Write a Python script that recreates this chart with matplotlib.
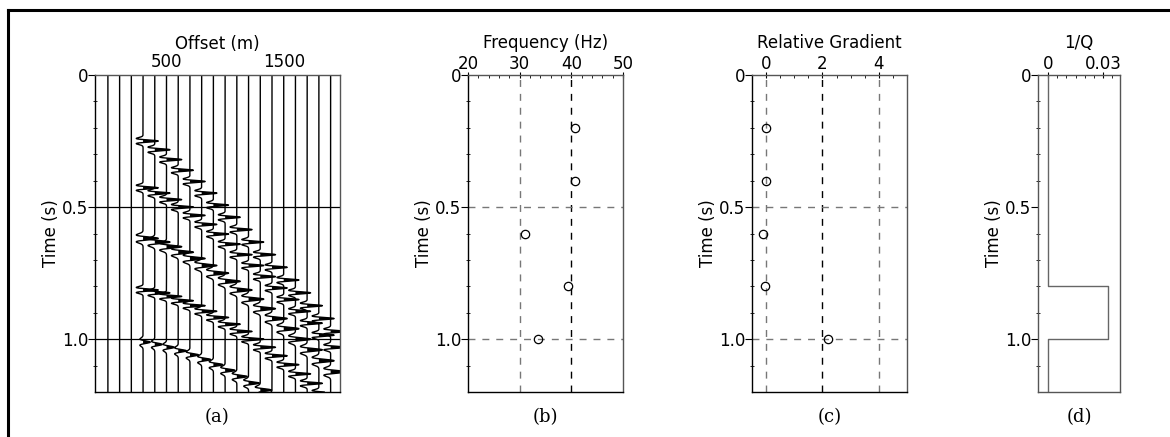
import matplotlib.pyplot as plt
from matplotlib.lines import Line2D
import numpy as np

plt.rcParams['font.family'] = ['DejaVu Sans']

# synthetic gather: reflectors, offsets
offsets = [0, 100, 200, 300, 400, 500, 600, 700, 800, 900,
           1000, 1100, 1200, 1300, 1400, 1500, 1600, 1700, 1800, 1900]
first_live = 300
t0_refl = [0.2, 0.4, 0.6, 0.8, 1.0]
amp_refl = [1.0, 1.0, 1.0, 1.0, 0.45]
grad_refl = [0.0, 0.0, 0.0, 0.0, 2.2]
freq_wavelet = [40, 40, 30, 40, 33]
vel = 2000.0

# panel (b), (c), (d)
t_est = [0.2, 0.4, 0.6, 0.8, 1.0]
freq_est = [40.8, 40.8, 31.0, 39.4, 33.6]
grad_est = [0.0, 0.0, -0.1, -0.05, 2.2]
q_time = [0.0, 0.8, 0.8, 1.0, 1.0, 1.2]
q_inv = [0.0, 0.0, 0.033, 0.033, 0.0, 0.0]


def ricker(t, f):
    a = (np.pi * f * t) ** 2
    return (1 - 2 * a) * np.exp(-a)


W, H = 1170, 437
fig = plt.figure(figsize=(W / 100, H / 100), dpi=100)

# frame lines (top + left)
fig.add_artist(Line2D([8 / W, 1], [1 - 10 / H, 1 - 10 / H], color='black', lw=2.2))
fig.add_artist(Line2D([8 / W, 8 / W], [0, 1 - 10 / H], color='black', lw=2.2))

bot = (H - 392) / H
hgt = (392 - 75) / H
FS = 12


def setup(ax, xlab):
    ax.set_ylim(1.2, 0)
    ax.set_yticks([0, 0.5, 1.0])
    ax.set_yticklabels(['0', '0.5', '1.0'])
    ax.set_yticks(np.arange(0.1, 1.2, 0.1), minor=True)
    ax.xaxis.set_ticks_position('top')
    ax.xaxis.set_label_position('top')
    ax.set_xlabel(xlab, fontsize=FS, labelpad=5)
    ax.set_ylabel('Time (s)', fontsize=FS, labelpad=1)
    ax.tick_params(axis='y', which='major', direction='out', length=5, labelsize=FS, pad=0)
    ax.tick_params(axis='y', which='minor', direction='inout', length=3)
    ax.tick_params(axis='x', which='major', direction='inout', length=5, labelsize=FS, pad=-1)
    ax.tick_params(axis='x', which='minor', direction='in', length=2)
    for s in ax.spines.values():
        s.set_linewidth(1.0)
    ax.spines['top'].set_color('#555555')
    ax.spines['right'].set_color('#555555')


def caption(x0, w, s):
    fig.text((x0 + w / 2) / W, 1 - 417 / H, s, family='DejaVu Serif',
             fontsize=13, ha='center', va='center')


# (a) wiggle gather
ax = fig.add_axes([95 / W, bot, 245 / W, hgt])
t = np.arange(0, 1.2005, 0.001)
scale = 130.0
for x in offsets:
    tr = np.zeros_like(t)
    if x >= first_live:
        for t0, a, g, f in zip(t0_refl, amp_refl, grad_refl, freq_wavelet):
            tx = np.sqrt(t0 ** 2 + (x / vel) ** 2)
            s2 = (x / 2) ** 2 / ((x / 2) ** 2 + (vel * t0 / 2) ** 2)
            tr += a * (1 + g * s2) * ricker(t - tx, f)
    xs = x + scale * tr
    ax.plot(xs, t, color='black', lw=1.0)
    ax.fill_betweenx(t, x, xs, where=tr > 0, color='black', lw=0)
for y in [0.5, 1.0]:
    ax.axhline(y, color='black', lw=0.9)
ax.set_xlim(-110, 1980)
ax.set_xticks([500, 1500])
setup(ax, 'Offset (m)')
ax.tick_params(axis='x', which='major', length=0, pad=3)
ax.xaxis.labelpad = 3
caption(95, 245, '(a)')

# (b) frequency
ax = fig.add_axes([468 / W, bot, 155 / W, hgt])
ax.axvline(30, color='#777777', lw=1, ls=(0, (5, 5)))
ax.axvline(40, color='black', lw=1, ls=(0, (5, 5)))
for y in [0.5, 1.0]:
    ax.axhline(y, color='#777777', lw=1, ls=(0, (5, 5)))
ax.plot(freq_est, t_est, 'o', mfc='none', mec='black', ms=6, mew=0.9)
ax.set_xlim(20, 50)
ax.set_xticks([20, 30, 40, 50])
ax.set_xticks(np.arange(22, 50, 2), minor=True)
setup(ax, 'Frequency (Hz)')
caption(468, 155, '(b)')

# (c) relative gradient
ax = fig.add_axes([752 / W, bot, 155 / W, hgt])
ax.axvline(0, color='#777777', lw=1, ls=(0, (5, 5)))
ax.axvline(2, color='black', lw=1, ls=(0, (5, 5)))
ax.axvline(4, color='#777777', lw=1, ls=(0, (5, 5)))
for y in [0.5, 1.0]:
    ax.axhline(y, color='#777777', lw=1, ls=(0, (5, 5)))
ax.plot(grad_est, t_est, 'o', mfc='none', mec='black', ms=6, mew=0.9)
ax.set_xlim(-0.5, 5)
ax.set_xticks([0, 2, 4])
ax.set_xticks(np.arange(0.5, 5, 0.5), minor=True)
setup(ax, 'Relative Gradient')
caption(752, 155, '(c)')

# (d) 1/Q
ax = fig.add_axes([1038 / W, bot, 82 / W, hgt])
ax.plot(q_inv, q_time, color='#666666', lw=1)
ax.set_xlim(-0.0055, 0.0393)
ax.set_xticks([0, 0.03])
ax.set_xticklabels(['0', '0.03'])
ax.set_xticks(np.arange(0.005, 0.036, 0.005), minor=True)
setup(ax, '1/Q')
for s in ax.spines.values():
    s.set_color('#555555')
caption(1038, 82, '(d)')

fig.savefig('out.png', dpi=100)
